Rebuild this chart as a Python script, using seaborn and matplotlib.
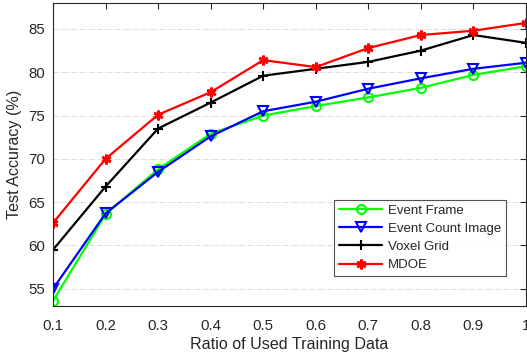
import numpy as np
import pandas as pd
import seaborn as sns
import matplotlib.pyplot as plt

ratio = [0.1, 0.2, 0.3, 0.4, 0.5, 0.6, 0.7, 0.8, 0.9, 1.0]
event_frame = [53.6, 63.6, 68.8, 72.9, 75.0, 76.1, 77.1, 78.2, 79.7, 80.7]
event_count = [55.0, 63.7, 68.5, 72.6, 75.5, 76.6, 78.1, 79.3, 80.4, 81.1]
voxel_grid = [59.5, 66.8, 73.5, 76.5, 79.6, 80.4, 81.2, 82.5, 84.3, 83.4]
mdoe = [62.6, 70.0, 75.1, 77.7, 81.4, 80.6, 82.8, 84.3, 84.8, 85.7]
names = ['Event Frame', 'Event Count Image', 'Voxel Grid', 'MDOE']

df = pd.DataFrame({
    'Ratio': ratio * 4,
    'Acc': event_frame + event_count + voxel_grid + mdoe,
    'Metodo': [n for n in names for _ in ratio],
})

sns.set_style('white')
plt.rcParams['font.family'] = ['Liberation Sans', 'DejaVu Sans']

fig = plt.figure(figsize=(5.27, 3.53), dpi=100)
ax = fig.add_axes([0.1006, 0.133, 0.8974, 0.8585])

cores = {'Event Frame': '#00ff00', 'Event Count Image': '#0000ff', 'Voxel Grid': 'black', 'MDOE': 'red'}
sns.lineplot(data=df, x='Ratio', y='Acc', hue='Metodo', hue_order=names,
             palette=cores, lw=1.6, ax=ax, legend=False)

# marcadores vazados estilo MATLAB
marcadores = ['o', 'v', '+', (6, 2, 0)]
tamanhos = [6.5, 7, 7.5, 7]
largura = [1.5, 1.5, 1.5, 2]
for ln, mk, ms, mw in zip(ax.lines[:4], marcadores, tamanhos, largura):
    ln.set_marker(mk)
    ln.set_markerfacecolor('none')
    ln.set_markeredgecolor(ln.get_color())
    ln.set_markersize(ms)
    ln.set_markeredgewidth(mw)

ax.set_xlim(0.1, 1.0)
ax.set_ylim(53, 88)
ax.set_xticks(ratio)
ax.set_xticklabels(['0.1', '0.2', '0.3', '0.4', '0.5', '0.6', '0.7', '0.8', '0.9', '1'])
ax.set_yticks([55, 60, 65, 70, 75, 80, 85])
ax.yaxis.grid(True, color='#d9d9d9', ls='-.', lw=0.6)
ax.xaxis.grid(False)
for s in ax.spines.values():
    s.set_color('#262626')
    s.set_linewidth(0.8)
ax.tick_params(direction='in', length=4, top=True, right=True, colors='#262626', labelsize=10.8)
ax.tick_params(axis='x', pad=9)
ax.tick_params(axis='y', pad=6)
ax.set_xlabel('Ratio of Used Training Data', fontsize=11.6, color='#262626', labelpad=3)
ax.set_ylabel('Test Accuracy (%)', fontsize=11.6, color='#262626', labelpad=4)

leg = ax.legend(ax.lines[:4], names, loc='lower right', bbox_to_anchor=(0.957, 0.1), fontsize=9.5,
                frameon=True, fancybox=False, edgecolor='#262626', handlelength=3.3, borderpad=0.35,
                labelspacing=0.45, handletextpad=0.4, borderaxespad=0)
leg.get_frame().set_linewidth(0.8)

plt.savefig('out.png', dpi=100)
